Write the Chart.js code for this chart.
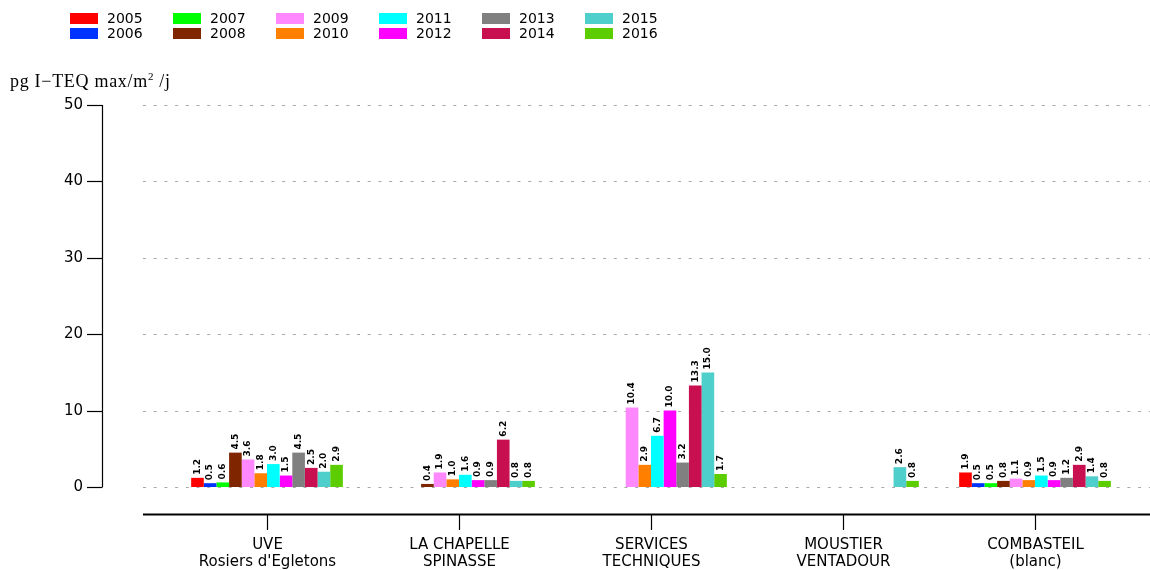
<!DOCTYPE html>
<html>
<head>
<meta charset="utf-8">
<script src="https://cdn.jsdelivr.net/npm/chart.js@4/dist/chart.umd.min.js"></script>
<style>
  html,body{margin:0;padding:0;background:#fff;}
  #wrap{position:relative;width:1150px;height:570px;overflow:hidden;}
  canvas{position:absolute;left:0;top:0;}
  #legend{position:absolute;left:70px;top:11px;display:grid;grid-auto-flow:column;grid-template-rows:repeat(2,15px);grid-auto-columns:103px;font-family:"DejaVu Sans",sans-serif;font-size:14px;color:#000;}
  .li{display:flex;align-items:center;height:15px;line-height:15px;}
  .sw{width:28px;height:11px;margin-right:9px;flex:none;}
  #ylab{position:absolute;left:10px;top:71px;font-family:"Liberation Serif","DejaVu Serif",serif;font-size:18px;letter-spacing:0.7px;color:#000;white-space:nowrap;}
  #ylab sup{font-size:11px;vertical-align:7px;line-height:0;}
</style>
</head>
<body>
<div id="wrap">
  <canvas id="c" width="1150" height="570"></canvas>
  <div id="legend"></div>
  <div id="ylab">pg I−TEQ max/m<sup>2</sup> /j</div>
</div>
<script>
const categories = [
  ["UVE", "Rosiers d'Egletons"],
  ["LA CHAPELLE", "SPINASSE"],
  ["SERVICES", "TECHNIQUES"],
  ["MOUSTIER", "VENTADOUR"],
  ["COMBASTEIL", "(blanc)"]
];
const years = ["2005","2006","2007","2008","2009","2010","2011","2012","2013","2014","2015","2016"];
const colors = ["#ff0000","#0033ff","#00ff00","#7f2600","#ff88ff","#ff7f00","#00ffff","#ff00ff","#808080","#c81050","#4ecfcb","#5ccd00"];

// values per year, one entry per site (null = no measurement)
const v2005 = [1.2, null, null, null, 1.9];
const v2006 = [0.5, null, null, null, 0.5];
const v2007 = [0.6, null, null, null, 0.5];
const v2008 = [4.5, 0.4, null, null, 0.8];
const v2009 = [3.6, 1.9, 10.4, null, 1.1];
const v2010 = [1.8, 1.0, 2.9, null, 0.9];
const v2011 = [3.0, 1.6, 6.7, null, 1.5];
const v2012 = [1.5, 0.9, 10.0, null, 0.9];
const v2013 = [4.5, 0.9, 3.2, null, 1.2];
const v2014 = [2.5, 6.2, 13.3, null, 2.9];
const v2015 = [2.0, 0.8, 15.0, 2.6, 1.4];
const v2016 = [2.9, 0.8, 1.7, 0.8, 0.8];
const seriesValues = [v2005,v2006,v2007,v2008,v2009,v2010,v2011,v2012,v2013,v2014,v2015,v2016];
const yTicks = [0, 10, 20, 30, 40, 50];

// HTML legend (column-major like the original)
const leg = document.getElementById('legend');
years.forEach((y, i) => {
  const d = document.createElement('div');
  d.className = 'li';
  d.innerHTML = '<span class="sw" style="background:' + colors[i] + '"></span><span>' + y + '</span>';
  leg.appendChild(d);
});

const axesPlugin = {
  id: 'rAxes',
  beforeDatasetsDraw(chart) {
    const ctx = chart.ctx, ys = chart.scales.y;
    ctx.save();
    ctx.strokeStyle = '#a8a8a8';
    ctx.lineWidth = 1;
    ctx.setLineDash([3, 7.7]);
    yTicks.forEach(t => {
      const py = Math.round(ys.getPixelForValue(t)) + 0.5;
      ctx.beginPath();
      ctx.moveTo(143, py);
      ctx.lineTo(1150, py);
      ctx.stroke();
    });
    ctx.restore();
  },
  afterDatasetsDraw(chart) {
    const ctx = chart.ctx;
    ctx.save();
    ctx.font = 'bold 9px "DejaVu Sans", sans-serif';
    ctx.fillStyle = '#000';
    ctx.textAlign = 'left';
    ctx.textBaseline = 'middle';
    chart.data.datasets.forEach((ds, i) => {
      const meta = chart.getDatasetMeta(i);
      meta.data.forEach((el, j) => {
        const v = ds.data[j];
        if (v === null || v === undefined) return;
        ctx.save();
        ctx.translate(el.x, el.y - 3);
        ctx.rotate(-Math.PI / 2);
        ctx.fillText(v.toFixed(1), 0, 0);
        ctx.restore();
      });
    });
    ctx.restore();
  },
  afterDraw(chart) {
    const ctx = chart.ctx, ys = chart.scales.y, xs = chart.scales.x;
    ctx.save();
    ctx.strokeStyle = '#000';
    ctx.fillStyle = '#000';
    // y axis
    ctx.lineWidth = 1.2;
    const top = ys.getPixelForValue(yTicks[yTicks.length - 1]);
    const bot = ys.getPixelForValue(yTicks[0]);
    ctx.beginPath();
    ctx.moveTo(102.5, top);
    ctx.lineTo(102.5, bot);
    ctx.stroke();
    ctx.font = '15px "DejaVu Sans", sans-serif';
    ctx.textAlign = 'right';
    ctx.textBaseline = 'middle';
    yTicks.forEach(t => {
      const py = Math.round(ys.getPixelForValue(t)) + 0.5;
      ctx.beginPath();
      ctx.moveTo(87, py);
      ctx.lineTo(102.5, py);
      ctx.stroke();
      ctx.fillText(String(t), 83, py);
    });
    // x axis
    ctx.lineWidth = 1.8;
    ctx.beginPath();
    ctx.moveTo(143, 514.5);
    ctx.lineTo(1150, 514.5);
    ctx.stroke();
    ctx.lineWidth = 1.2;
    ctx.textAlign = 'center';
    ctx.textBaseline = 'alphabetic';
    categories.forEach((c, i) => {
      const px = Math.round(xs.getPixelForValue(i)) + 0.5;
      ctx.beginPath();
      ctx.moveTo(px, 514);
      ctx.lineTo(px, 530);
      ctx.stroke();
      ctx.fillText(c[0], px, 549);
      ctx.fillText(c[1], px, 566);
    });
    ctx.restore();
  }
};

new Chart(document.getElementById('c'), {
  type: 'bar',
  data: {
    labels: categories.map(c => c.join(' ')),
    datasets: years.map((y, i) => ({
      label: y,
      data: seriesValues[i],
      backgroundColor: colors[i],
      borderWidth: 0,
      categoryPercentage: 0.79,
      barPercentage: 1.0
    }))
  },
  options: {
    responsive: false,
    animation: false,
    devicePixelRatio: 1,
    layout: { padding: { left: 171, right: 19, top: 105, bottom: 83 } },
    plugins: { legend: { display: false }, tooltip: { enabled: false }, title: { display: false } },
    scales: {
      x: { type: 'category', offset: true, display: false, grid: { display: false } },
      y: { type: 'linear', min: 0, max: 50, display: false, ticks: { stepSize: 10 } }
    }
  },
  plugins: [axesPlugin]
});
</script>
</body>
</html>
